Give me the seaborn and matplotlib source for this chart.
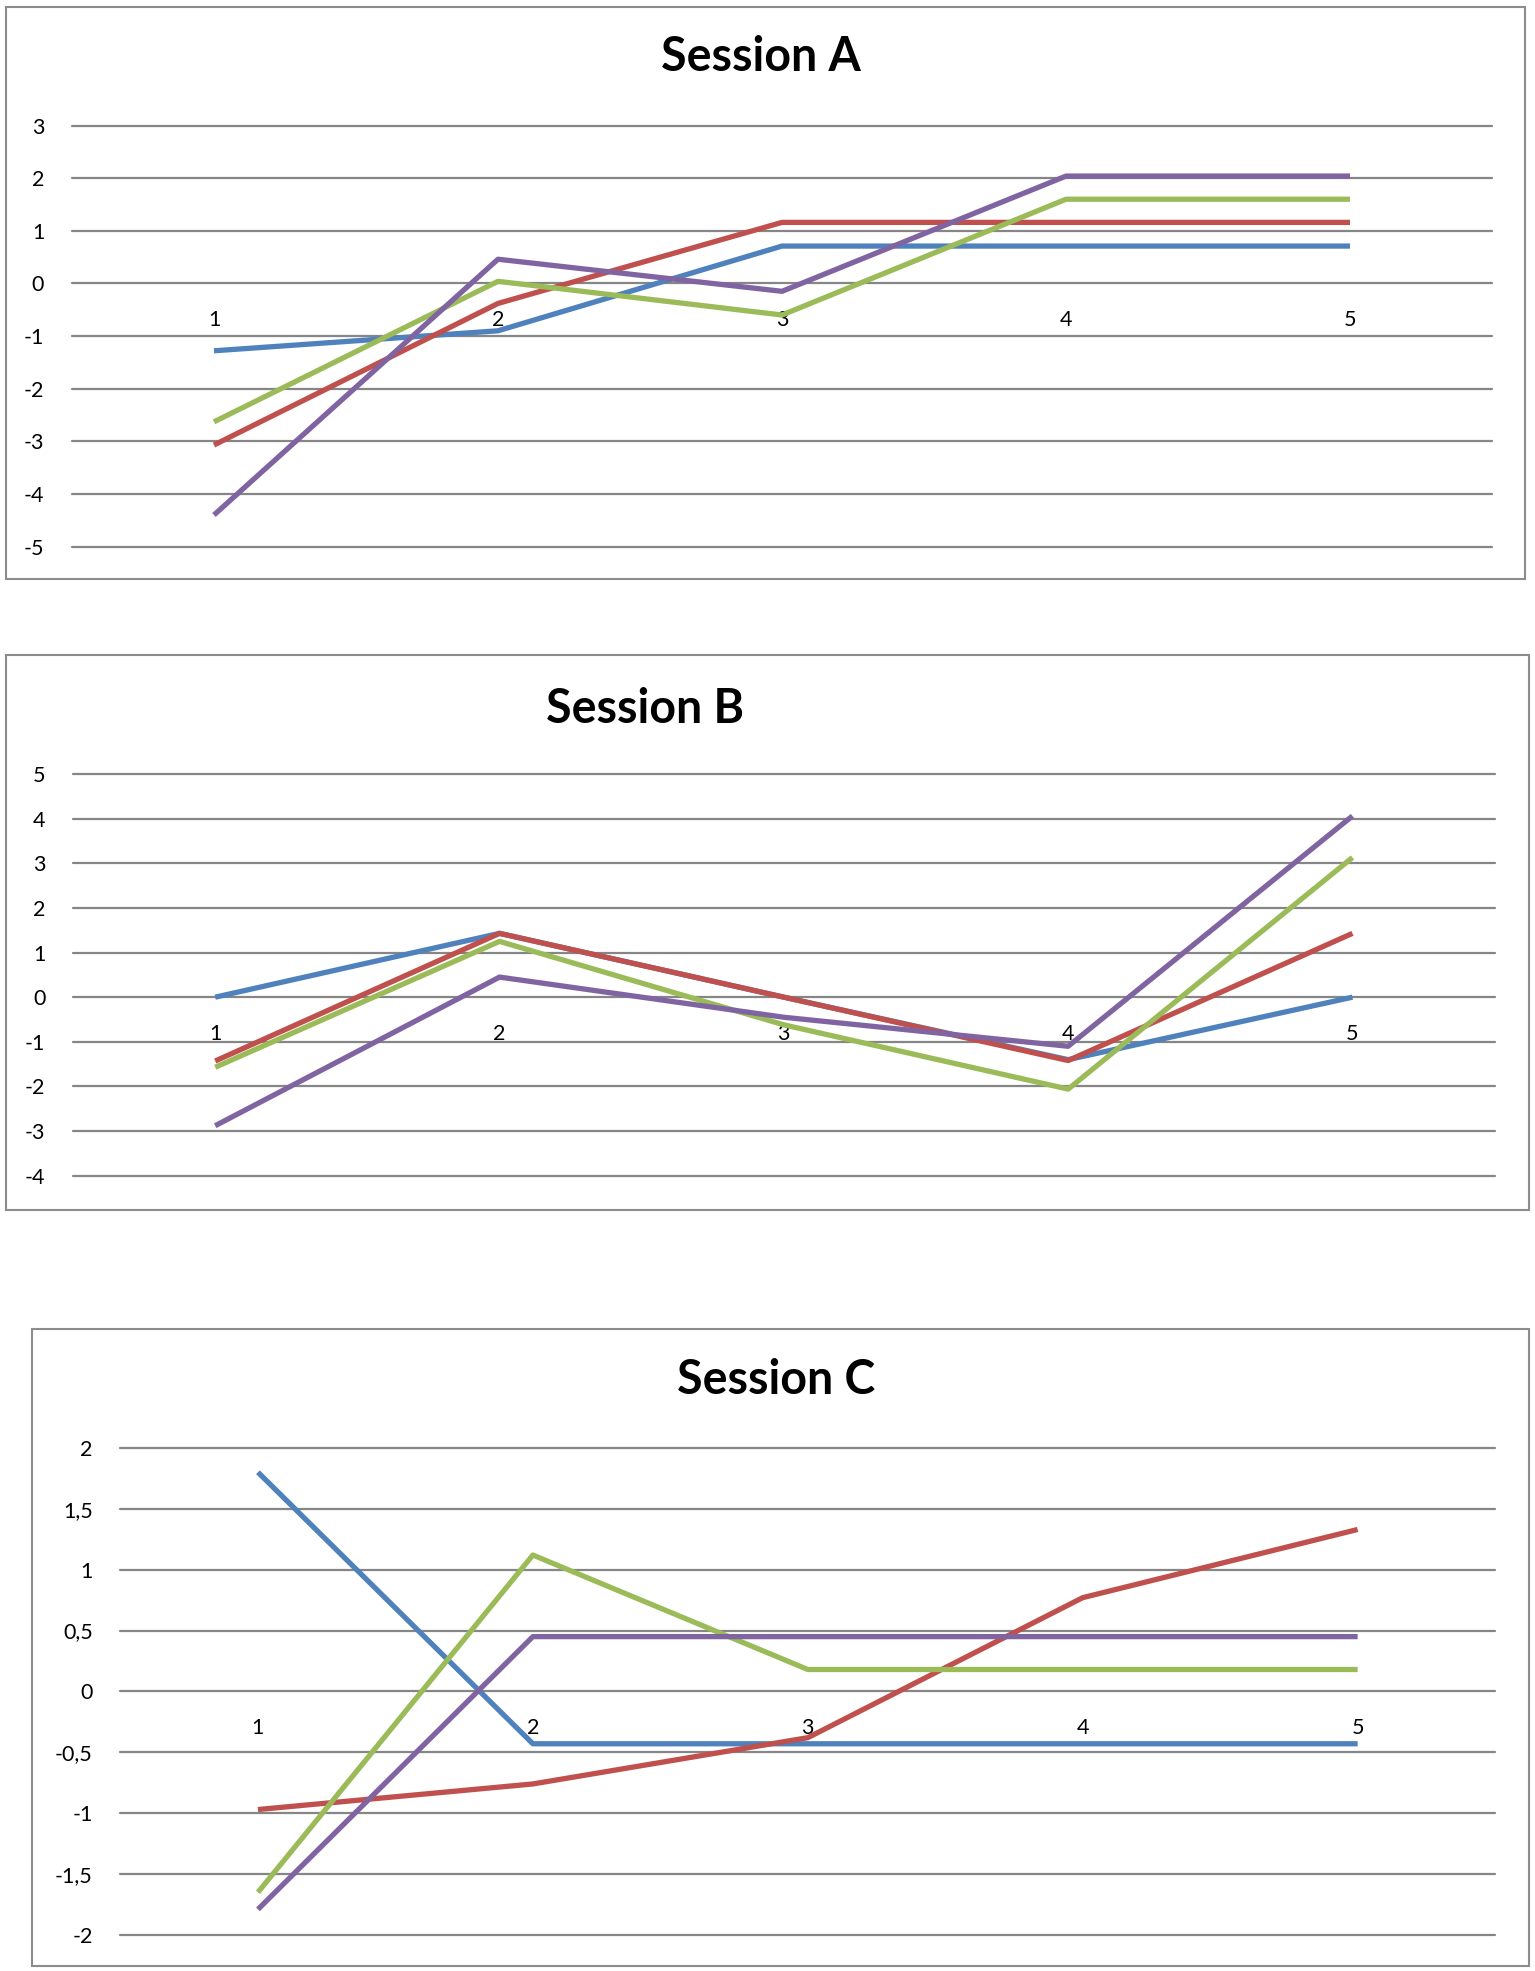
import matplotlib
matplotlib.use("Agg")
import matplotlib.pyplot as plt
import matplotlib.patches as mpatches
import pandas as pd
import seaborn as sns

sns.set_theme(style="white")
plt.rcParams['font.family'] = ['Lato', 'DejaVu Sans']

# ---- data ----
sessions = [1, 2, 3, 4, 5]
series_names = ["Series1", "Series2", "Series3", "Series4"]
colors = ["#4F81BD", "#C0504D", "#9BBB59", "#8064A2"]

a_blue = [-1.28, -0.90, 0.71, 0.71, 0.71]
a_red = [-3.07, -0.38, 1.16, 1.16, 1.16]
a_green = [-2.63, 0.04, -0.60, 1.60, 1.60]
a_purple = [-4.40, 0.46, -0.15, 2.04, 2.04]

b_blue = [0.0, 1.43, 0.0, -1.40, 0.0]
b_red = [-1.43, 1.43, 0.0, -1.42, 1.43]
b_green = [-1.57, 1.25, -0.62, -2.06, 3.13]
b_purple = [-2.88, 0.45, -0.45, -1.10, 4.06]

c_blue = [1.80, -0.43, -0.43, -0.43, -0.43]
c_red = [-0.97, -0.76, -0.38, 0.77, 1.33]
c_green = [-1.65, 1.12, 0.18, 0.18, 0.18]
c_purple = [-1.79, 0.45, 0.45, 0.45, 0.45]

a_ticks = [-5, -4, -3, -2, -1, 0, 1, 2, 3]
a_labels = ["-5", "-4", "-3", "-2", "-1", "0", "1", "2", "3"]
b_ticks = [-4, -3, -2, -1, 0, 1, 2, 3, 4, 5]
b_labels = ["-4", "-3", "-2", "-1", "0", "1", "2", "3", "4", "5"]
c_ticks = [-2, -1.5, -1, -0.5, 0, 0.5, 1, 1.5, 2]
c_labels = ["-2", "-1,5", "-1", "-0,5", "0", "0,5", "1", "1,5", "2"]


def long_frame(values):
    rows = []
    for name, vals in zip(series_names, values):
        for s, v in zip(sessions, vals):
            rows.append({"session": s, "value": v, "series": name})
    return pd.DataFrame(rows)


panels = [
    dict(title="Session A", data=[a_blue, a_red, a_green, a_purple],
         ticks=a_ticks, labels=a_labels,
         ax=[0.0469, 0.7227, 0.9251, 0.2136],
         box=[0.0039, 0.7062, 0.9896, 0.2902], tpos=(0.4955, 0.9711)),
    dict(title="Session B", data=[b_blue, b_red, b_green, b_purple],
         ticks=b_ticks, labels=b_labels,
         ax=[0.0476, 0.4035, 0.9261, 0.2038],
         box=[0.0039, 0.3861, 0.9922, 0.2816], tpos=(0.4205, 0.6403)),
    dict(title="Session C", data=[c_blue, c_red, c_green, c_purple],
         ticks=c_ticks, labels=c_labels,
         ax=[0.0785, 0.0183, 0.8955, 0.2471],
         box=[0.0208, 0.0025, 0.9752, 0.3232], tpos=(0.5055, 0.2998)),
]

fig = plt.figure(figsize=(15.35, 19.71), dpi=100)
fig.patch.set_facecolor("white")

for p in panels:
    # chart frame
    fig.patches.append(mpatches.Rectangle(
        (p["box"][0], p["box"][1]), p["box"][2], p["box"][3],
        transform=fig.transFigure, fill=False, edgecolor="#8c8c8c", lw=1.5))
    fig.text(p["tpos"][0], p["tpos"][1], p["title"], ha="center", va="center",
             fontsize=33.5, fontweight="bold", color="black")

    ax = fig.add_axes(p["ax"])
    df = long_frame(p["data"])
    sns.lineplot(data=df, x="session", y="value", hue="series",
                 hue_order=series_names, palette=colors, linewidth=3.8,
                 legend=False, ax=ax, solid_capstyle="butt")

    ax.set_xlim(0.5, 5.5)
    ax.set_ylim(p["ticks"][0], p["ticks"][-1])
    ax.set_yticks(p["ticks"])
    ax.set_yticklabels(p["labels"])
    ax.set_xticks(sessions)
    ax.set_xticklabels([str(s) for s in sessions])
    ax.set_xlabel("")
    ax.set_ylabel("")

    ax.yaxis.grid(True, color="#868686", lw=1.6)
    ax.xaxis.grid(False)
    ax.set_axisbelow(True)
    for gl in ax.get_ygridlines():
        gl.set_clip_on(False)

    for side in ["left", "top", "right"]:
        ax.spines[side].set_visible(False)
    ax.spines["bottom"].set_position(("data", 0))
    ax.spines["bottom"].set_color("none")
    ax.set_facecolor("none")

    ax.tick_params(axis="both", length=0, labelsize=15.5, colors="black")
    ax.tick_params(axis="y", pad=20)
    ax.tick_params(axis="x", pad=19)

fig.savefig("out.png", dpi=100, facecolor="white")
